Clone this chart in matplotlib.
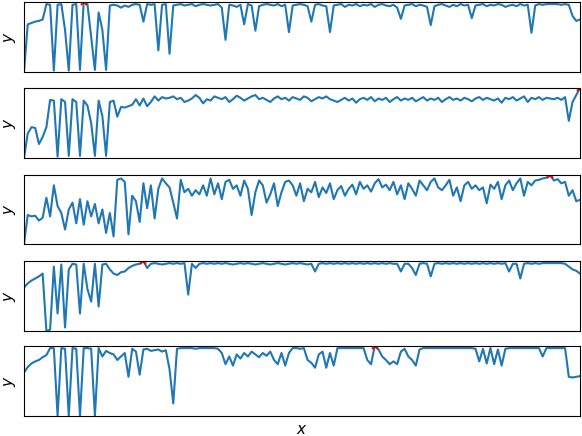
import matplotlib
matplotlib.use("Agg")
import matplotlib.pyplot as plt
import numpy as np

s1 = [0,68,70,72,73,75,97,96,2,96,97,60,2,96,97,3,100,97,50,3,85,60,3,95,96,95,92,95,93,96,
      97,96,72,97,96,97,31,96,97,26,95,96,97,95,96,97,94,96,97,96,
      95,96,97,92,46,96,95,93,96,68,97,95,59,94,96,97,96,95,97,94,
      96,57,95,96,97,96,94,72,96,97,95,94,57,95,96,97,93,96,95,97,
      94,96,95,97,93,96,97,95,94,96,92,76,95,96,97,94,96,95,93,67,
      94,96,97,95,93,96,94,97,95,96,77,95,96,97,94,96,95,97,96,93,
      95,96,94,97,95,96,56,95,97,96,97,97,97,97,96,97,96,80,73,75]
s2 = [0,35,44,43,20,30,44,83,82,2,
      84,80,3,84,80,3,82,75,50,3,
      82,60,3,80,82,59,73,72,74,76,
      84,75,85,74,80,88,82,87,85,86,
      88,84,86,80,82,85,90,86,78,84,
      82,88,86,84,87,80,84,89,86,82,
      85,88,90,84,86,83,80,85,88,84,
      86,82,87,85,83,88,86,81,84,87,
      85,88,84,82,80,83,86,82,85,79,
      84,86,83,87,81,85,83,86,80,84,
      87,82,85,83,86,81,84,87,82,85,
      83,86,80,84,87,83,85,82,86,84,
      81,85,87,83,86,84,82,85,79,86,
      84,87,82,85,88,80,86,84,87,83,
      86,85,84,86,83,87,53,80,90,100]
s3 = [0,42,40,41,34,38,67,40,85,55,
      45,21,50,60,30,65,28,62,40,58,
      30,50,16,45,11,93,95,90,14,70,
      62,32,88,52,85,37,80,95,88,82,
      60,37,93,75,80,70,78,72,85,70,
      95,72,88,65,90,93,80,85,70,92,
      80,42,75,92,85,60,72,88,55,75,
      90,92,85,70,88,62,80,75,90,68,
      82,74,88,65,78,84,70,80,86,72,
      90,80,85,76,88,94,82,86,78,90,
      72,85,65,88,80,70,92,85,78,90,
      95,82,78,85,93,70,82,62,85,90,
      80,85,78,82,59,86,80,90,65,85,
      92,78,88,95,70,90,85,92,93,95,
      96,100,92,94,88,90,70,78,62,64]
s4 = [62,68,72,75,78,82,0,2,92,25,
      95,5,88,96,95,25,96,60,42,96,
      35,95,96,88,82,80,84,85,90,93,
      95,96,100,90,96,97,96,95,96,97,
      96,97,96,97,52,96,90,96,97,96,
      97,96,97,96,97,96,95,96,97,96,
      97,96,95,96,97,96,95,96,97,96,
      95,96,97,96,97,96,95,96,85,96,
      97,96,97,96,97,96,97,96,97,96,
      97,96,97,96,97,96,97,96,97,96,
      96,85,96,96,90,80,96,97,96,78,
      96,97,96,97,96,97,96,97,96,97,
      96,97,96,97,96,97,96,97,96,97,
      85,96,96,75,96,97,96,97,96,97,
      97,97,97,97,97,96,92,88,86,82]
s5 = [62,70,75,78,80,84,87,97,97,0,
      97,96,0,97,96,0,97,97,96,0,
      97,85,93,90,88,80,85,90,56,96,
      92,59,95,96,93,94,95,92,94,67,
      18,96,97,97,97,97,96,97,97,97,
      97,97,96,90,74,85,72,88,82,90,
      85,92,88,84,90,86,92,80,74,90,
      72,90,97,97,96,97,80,76,69,88,
      92,69,90,72,97,97,97,97,97,97,
      97,97,80,74,100,95,85,80,74,78,
      74,92,96,85,80,72,95,97,97,97,
      97,97,97,97,97,97,97,97,97,97,
      97,96,78,96,75,97,74,95,72,96,
      97,97,97,97,97,97,97,97,97,85,
      97,97,97,97,97,97,56,55,56,57]
series = [s1, s2, s3, s4, s5]

W, H = 582, 436
fig = plt.figure(figsize=(W/100, H/100), dpi=100)
tops = [2, 88, 175, 261, 346]
bots = [72, 158, 244, 331, 416]
for s, t, b in zip(series, tops, bots):
    ax = fig.add_axes([24/W, 1-b/H, (580-24)/W, (b-t)/H])
    y = np.array(s, dtype=float)
    x = np.arange(len(y))
    ax.plot(x, y, color='#1f77b4', lw=1.5)
    i = int(np.argmax(y))
    ax.plot(x[i], y[i], 'x', color='red', ms=5, mew=1.5)
    ax.set_xlim(0, len(y)-1)
    ax.set_ylim(y.min(), y.max())
    ax.set_xticks([]); ax.set_yticks([])
    ax.set_ylabel('$y$', fontsize=11)
    for sp in ax.spines.values():
        sp.set_color('black')
ax.set_xlabel('$x$', fontsize=11)
fig.savefig('out.png', dpi=100)
